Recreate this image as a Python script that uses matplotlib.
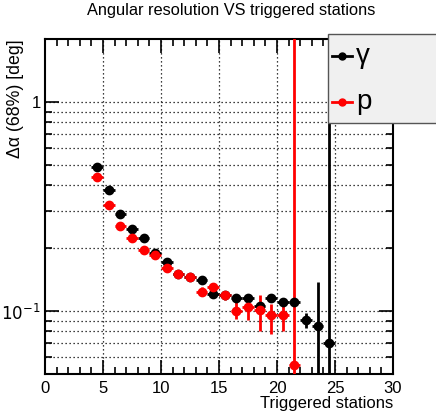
import matplotlib
matplotlib.use("Agg")
import matplotlib.pyplot as plt
from matplotlib.lines import Line2D
from matplotlib.patches import Rectangle
from matplotlib.ticker import MultipleLocator, FixedLocator, NullFormatter, FixedFormatter

plt.rcParams['font.family'] = ['Liberation Sans', 'DejaVu Sans']

# ---- data ----
x_gamma = [4.5, 5.5, 6.5, 7.5, 8.5, 9.5, 10.5, 11.5, 12.5, 13.5, 14.5, 15.5,
           16.5, 17.5, 18.5, 19.5, 20.5, 21.5, 22.5, 23.5, 24.5]
y_gamma = [0.490, 0.378, 0.292, 0.246, 0.224, 0.190, 0.171, 0.150, 0.145, 0.140, 0.121, 0.119,
           0.115, 0.115, 0.106, 0.116, 0.111, 0.110, 0.0906, 0.085, 0.070]
err_lo_gamma = [0.008, 0.006, 0.005, 0.004, 0.004, 0.003, 0.003, 0.003, 0.003, 0.003, 0.003, 0.003,
                0.004, 0.004, 0.004, 0.004, 0.004, 0.004, 0.0076, 0.084, 0.069]
err_hi_gamma = [0.008, 0.006, 0.005, 0.004, 0.004, 0.003, 0.003, 0.003, 0.003, 0.003, 0.003, 0.003,
                0.004, 0.004, 0.004, 0.004, 0.004, 0.004, 0.0074, 0.052, 10.0]

x_p = [4.5, 5.5, 6.5, 7.5, 8.5, 9.5, 10.5, 11.5, 12.5, 13.5, 14.5, 15.5,
       16.5, 17.5, 18.5, 19.5, 20.5, 21.5]
y_p = [0.436, 0.323, 0.255, 0.224, 0.196, 0.185, 0.161, 0.150, 0.145, 0.124, 0.130, 0.119,
       0.100, 0.105, 0.101, 0.0957, 0.0957, 0.055]
err_lo_p = [0.008, 0.006, 0.005, 0.004, 0.004, 0.004, 0.004, 0.004, 0.004, 0.006, 0.006, 0.006,
            0.0084, 0.0148, 0.0205, 0.018, 0.0152, 0.054]
err_hi_p = [0.008, 0.006, 0.005, 0.004, 0.004, 0.004, 0.004, 0.004, 0.004, 0.006, 0.006, 0.006,
            0.014, 0.0155, 0.018, 0.0123, 0.0123, 10.0]

x_ticks = [0, 5, 10, 15, 20, 25, 30]
x_ticklabels = ["0", "5", "10", "15", "20", "25", "30"]
y_ticks = [0.1, 1]
y_ticklabels = ["$10^{-1}$", "1"]

title = "Angular resolution VS triggered stations"
xlabel = "Triggered stations"
ylabel = "\u0394\u03b1 (68%) [deg]"
legend_labels = ["\u03b3", "p"]

# ---- figure ----
W, H = 436, 416
fig = plt.figure(figsize=(W / 100, H / 100), dpi=100)
ax = fig.add_axes([45 / W, 1 - 374 / H, (393 - 45) / W, (374 - 39) / H])

ax.set_xlim(0, 30)
ax.set_yscale('log')
ax.set_ylim(0.05, 2)

# grid lines (major x, all log decades incl. minor on y)
gkw = dict(color='black', lw=0.9, ls=(0, (1, 2.2)), zorder=1)
for xv in [5, 10, 15, 20, 25]:
    ax.axvline(xv, **gkw)
for yv in [0.06, 0.07, 0.08, 0.09, 0.1, 0.2, 0.3, 0.4, 0.5, 0.6, 0.7, 0.8, 0.9, 1.0]:
    ax.axhline(yv, **gkw)

ekw = dict(fmt='o', markersize=6, elinewidth=2.0, capsize=0, zorder=3)
ax.errorbar(x_gamma, y_gamma, yerr=[err_lo_gamma, err_hi_gamma], xerr=0.5,
            color='black', ecolor='black', **ekw)
ax.errorbar(x_p, y_p, yerr=[err_lo_p, err_hi_p], xerr=0.5,
            color='red', ecolor='red', **ekw)

# ticks
ax.xaxis.set_major_locator(FixedLocator(x_ticks))
ax.xaxis.set_major_formatter(FixedFormatter(x_ticklabels))
ax.xaxis.set_minor_locator(MultipleLocator(1))
ax.yaxis.set_major_locator(FixedLocator(y_ticks))
ax.yaxis.set_major_formatter(FixedFormatter(y_ticklabels))
ax.yaxis.set_minor_locator(FixedLocator([0.06, 0.07, 0.08, 0.09, 0.2, 0.3, 0.4, 0.5,
                                         0.6, 0.7, 0.8, 0.9]))
ax.yaxis.set_minor_formatter(NullFormatter())
ax.tick_params(which='both', direction='in', top=True, right=True, width=1.2, labelsize=12)
ax.tick_params(which='major', length=10)
ax.tick_params(which='minor', length=5)
ax.tick_params(axis='x', pad=5)
ax.tick_params(axis='y', pad=3)
for s in ax.spines.values():
    s.set_linewidth(1.5)

# titles
fig.text(231 / W, 1 - 11 / H, title, ha='center', va='center', fontsize=11.8)
ax.set_xlabel(xlabel, fontsize=12)
ax.xaxis.set_label_coords(1.0, -0.065)
ax.xaxis.label.set_horizontalalignment('right')
fig.text(15 / W, 1 - 39 / H, ylabel, rotation=90, ha='center', va='top', fontsize=12.8)

# legend box (ROOT-like, clipped at figure edge)
lx0, ly0, lx1, ly1 = 328, 34, 440, 123
fig.patches.append(Rectangle((lx0 / W, 1 - ly1 / H), (lx1 - lx0) / W, (ly1 - ly0) / H,
                             transform=fig.transFigure, facecolor='#f0f0f0',
                             edgecolor='#555555', lw=1.0, zorder=5))
for lbl, col, yy in zip(legend_labels, ['black', 'red'], [56, 102]):
    fig.add_artist(Line2D([332 / W, 352 / W], [1 - yy / H, 1 - yy / H], color=col, lw=2,
                          marker=None, transform=fig.transFigure, zorder=6))
    fig.add_artist(Line2D([342 / W], [1 - yy / H], color=col, marker='o', markersize=5,
                          transform=fig.transFigure, zorder=6))
    fig.text(356 / W, 1 - yy / H, lbl, ha='left', va='center', fontsize=20, zorder=7)

fig.savefig('out.png', dpi=100)
